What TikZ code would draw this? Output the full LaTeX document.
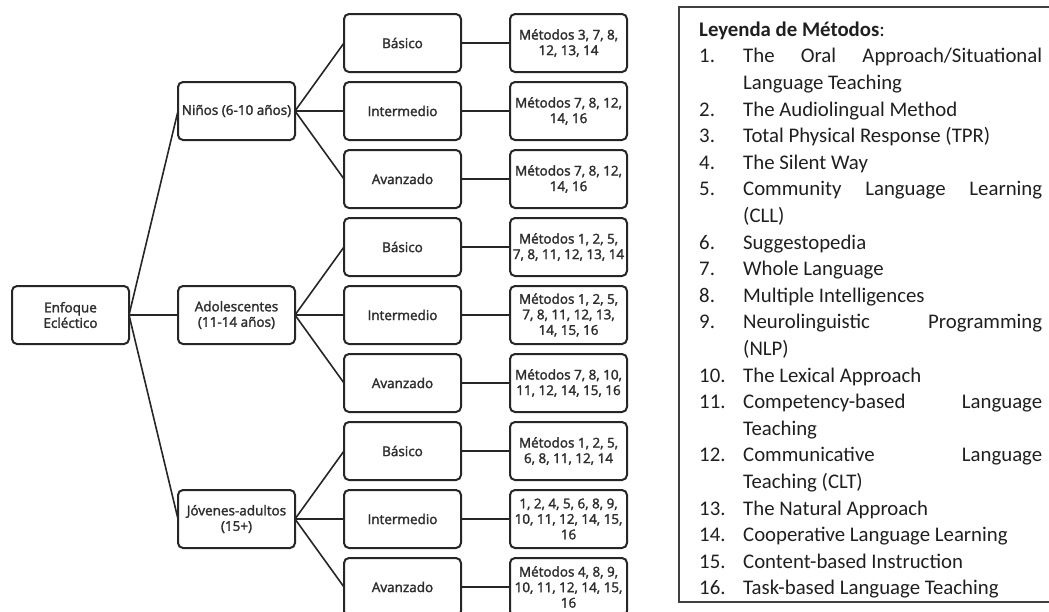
\documentclass[tikz,border=0pt]{standalone}
\usepackage{fontspec}
\setmainfont{Carlito}
\newfontfamily\treefont[FakeBold=2]{Open Sans}
\usetikzlibrary{positioning}
\tikzset{
  box/.style={draw=black!85, line width=2pt, rounded corners=5pt, fill=white,
    minimum width=117pt, minimum height=58pt, inner sep=1pt, outer sep=0pt,
    align=center, text=black!82, font=\treefont\fontsize{13.5}{15.5}\selectfont},
  link/.style={draw=black!85, line width=1.6pt},
  frame/.style={draw=black!75, line width=1.3pt},
  legend/.style={anchor=north west, inner sep=0pt, text width=343pt, align=justify,
    text=black!88, font=\fontsize{20.8}{26.6}\selectfont},
}
\newcommand\legitem[2]{\noindent\hangindent=44pt\hangafter=1\makebox[44pt][l]{#1}#2\par}
\begin{document}
\begin{tikzpicture}[x=1pt, y=-1pt, node distance=10pt and 49pt]
\useasboundingbox (0,0) rectangle (1049,611);
% niveles
\node[box] (NB) at (402.5,43) {Básico};
\node[box, below=of NB] (NI) {Intermedio};
\node[box, below=of NI] (NA) {Avanzado};
\node[box, below=of NA] (AB) {Básico};
\node[box, below=of AB] (AI) {Intermedio};
\node[box, below=of AI] (AA) {Avanzado};
\node[box, below=of AA] (JB) {Básico};
\node[box, below=of JB] (JI) {Intermedio};
\node[box, below=of JI] (JA) {Avanzado};
% grupos de edad
\node[box, left=of NI] (N) {Niños (6-10 años)};
\node[box, left=of AI] (A) {Adolescentes\\(11-14 años)};
\node[box, left=of JI] (J) {Jóvenes-adultos\\(15+)};
\node[box, left=of A] (E) {Enfoque\\Ecléctico};
% metodos
\node[box, right=of NB] (mNB) {Métodos 3, 7, 8,\\12, 13, 14};
\node[box, right=of NI] (mNI) {Métodos 7, 8, 12,\\14, 16};
\node[box, right=of NA] (mNA) {Métodos 7, 8, 12,\\14, 16};
\node[box, right=of AB] (mAB) {Métodos 1, 2, 5,\\7, 8, 11, 12, 13, 14};
\node[box, right=of AI] (mAI) {Métodos 1, 2, 5,\\7, 8, 11, 12, 13,\\14, 15, 16};
\node[box, right=of AA] (mAA) {Métodos 7, 8, 10,\\11, 12, 14, 15, 16};
\node[box, right=of JB] (mJB) {Métodos 1, 2, 5,\\6, 8, 11, 12, 14};
\node[box, right=of JI] (mJI) {1, 2, 4, 5, 6, 8, 9,\\10, 11, 12, 14, 15,\\16};
\node[box, right=of JA] (mJA) {Métodos 4, 8, 9,\\10, 11, 12, 14, 15,\\16};
% conexiones
\draw[link] (E.east) -- (N.west) (E.east) -- (A.west) (E.east) -- (J.west);
\draw[link] (N.east) -- (NB.west) (N.east) -- (NI.west) (N.east) -- (NA.west);
\draw[link] (A.east) -- (AB.west) (A.east) -- (AI.west) (A.east) -- (AA.west);
\draw[link] (J.east) -- (JB.west) (J.east) -- (JI.west) (J.east) -- (JA.west);
\draw[link] (NB) -- (mNB) (NI) -- (mNI) (NA) -- (mNA);
\draw[link] (AB) -- (mAB) (AI) -- (mAI) (AA) -- (mAA);
\draw[link] (JB) -- (mJB) (JI) -- (mJI) (JA) -- (mJA);
% leyenda
\draw[frame] (679,7) rectangle (1060,602);
\node[legend] (L) at (699,17.4) {%
  \tolerance=10000 \hbadness=10000
  \noindent\strut\textbf{Leyenda de Métodos}:\par
  \legitem{1.}{The Oral Approach/Situational\linebreak Language Teaching}
  \legitem{2.}{The Audiolingual Method}
  \legitem{3.}{Total Physical Response (TPR)}
  \legitem{4.}{The Silent Way}
  \legitem{5.}{Community Language Learning\linebreak (CLL)}
  \legitem{6.}{Suggestopedia}
  \legitem{7.}{Whole Language}
  \legitem{8.}{Multiple Intelligences}
  \legitem{9.}{Neurolinguistic Programming\linebreak (NLP)}
  \legitem{10.}{The Lexical Approach}
  \legitem{11.}{Competency-based Language\linebreak Teaching}
  \legitem{12.}{Communicative Language\linebreak Teaching (CLT)}
  \legitem{13.}{The Natural Approach}
  \legitem{14.}{Cooperative Language Learning}
  \legitem{15.}{Content-based Instruction}
  \legitem{16.}{Task-based Language Teaching}};
\end{tikzpicture}
\end{document}
